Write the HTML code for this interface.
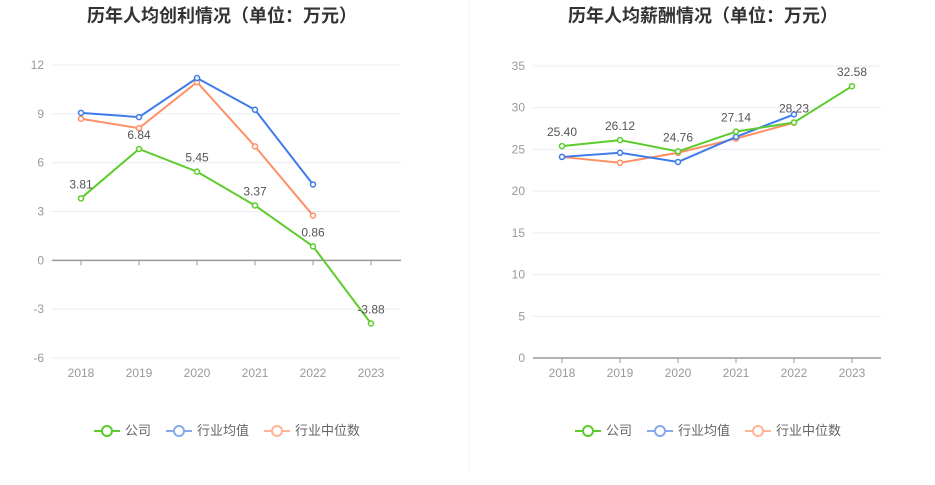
<!DOCTYPE html>
<html><head><meta charset="utf-8"><style>
body{margin:0;background:#fff;width:935px;height:480px;overflow:hidden;font-family:"Liberation Sans","Noto Sans CJK SC",sans-serif}
svg text{font-family:"Liberation Sans","Noto Sans CJK SC",sans-serif}
</style></head><body>
<svg id="c" width="935" height="480">
<line x1="469" y1="0" x2="469" y2="470" stroke="#f0f0f0"/>
</svg>
<script>
const years=["2018","2019","2020","2021","2022","2023"];
const profitCompany=[3.81,6.84,5.45,3.37,0.86,-3.88];
const profitAvg=[9.06,8.8,11.2,9.25,4.66];
const profitMedian=[8.7,8.12,10.95,7.0,2.75];
const profitTicks=[-6,-3,0,3,6,9,12];
const salaryCompany=[25.40,26.12,24.76,27.14,28.23,32.58];
const salaryAvg=[24.1,24.6,23.5,26.5,29.2];
const salaryMedian=[24.1,23.4,24.6,26.3,28.2];
const salaryTicks=[0,5,10,15,20,25,30,35];
const NS="http://www.w3.org/2000/svg";
const svg=document.getElementById('c');
function mk(tag,attrs,parent){const e=document.createElementNS(NS,tag);for(const k in attrs)e.setAttribute(k,attrs[k]);(parent||svg).appendChild(e);return e;}
function chart(cfg){
  const g=mk('g',{});
  
  
  const y=v=>cfg.y0+(v-cfg.vmin)/(cfg.vmax-cfg.vmin)*(cfg.y1-cfg.y0);
  const x=i=>cfg.x0+58*i;
  const t=mk('text',{x:cfg.cx,y:22,'text-anchor':'middle','font-size':18,'font-weight':'bold',fill:'#333'},g);
  t.textContent=cfg.title;
  
  
  cfg.ticks.forEach(v=>{
    const l=mk('line',{x1:cfg.ax0,x2:cfg.ax1,y1:y(v),y2:y(v),stroke:v===cfg.base?'#999':'#e8ecf4','stroke-width':v===cfg.base?1.5:1},g);
    
    
    const tx=mk('text',{x:cfg.ax0-8,y:y(v)+4,'text-anchor':'end','font-size':12,fill:'#999'},g);
    tx.textContent=v;
    
    
  });
  years.forEach((yr,i)=>{
    mk('line',{x1:x(i),x2:x(i),y1:y(cfg.base),y2:y(cfg.base)+5,stroke:'#999'},g);
    const tx=mk('text',{x:x(i),y:cfg.y0+19,'text-anchor':'middle','font-size':12,fill:'#999'},g);
    tx.textContent=yr;
    
    
  });
  const series=[[cfg.median,'#ff9066','industry-median-line'],[cfg.avg,'#3e7bea','industry-average-line'],[cfg.comp,'#5bcc2a','company-line']];
  series.forEach(([d,col,nm])=>{
    const p=mk('polyline',{points:d.map((v,i)=>x(i)+','+y(v)).join(' '),fill:'none',stroke:col,'stroke-width':2},g);
    
    
    d.forEach((v,i)=>{
      const c=mk('circle',{cx:x(i),cy:y(v),r:2.5,fill:'#fff',stroke:col,'stroke-width':1.5},g);
      
      
    });
  });
  cfg.comp.forEach((v,i)=>{
    const tx=mk('text',{x:x(i),y:y(v)-10,'text-anchor':'middle','font-size':12,fill:'#555'},g);
    tx.textContent=v.toFixed(2);
    
    
  });
  const leg=[['公司','#5bcc2a',cfg.lx],['行业均值','#86a9ee',cfg.lx+72],['行业中位数','#ffb399',cfg.lx+170]];
  leg.forEach(([lab,col,lx])=>{
    const lg=mk('g',{},g);
    
    
    mk('line',{x1:lx,x2:lx+26,y1:431,y2:431,stroke:col,'stroke-width':2},lg);
    mk('circle',{cx:lx+13,cy:431,r:5,fill:'#fff',stroke:col,'stroke-width':2},lg);
    const tx=mk('text',{x:lx+31,y:435,'font-size':13,fill:'#666'},lg);
    tx.textContent=lab;
  });
}
chart({name:'profit-chart',title:'历年人均创利情况（单位：万元）',cx:222,x0:81,ax0:52,ax1:401,y0:358,y1:65,vmin:-6,vmax:12,base:0,ticks:profitTicks,comp:profitCompany,avg:profitAvg,median:profitMedian,lx:94});
chart({name:'salary-chart',title:'历年人均薪酬情况（单位：万元）',cx:703,x0:562,ax0:533,ax1:881,y0:358,y1:66,vmin:0,vmax:35,base:0,ticks:salaryTicks,comp:salaryCompany,avg:salaryAvg,median:salaryMedian,lx:575});
</script>
</body></html>
